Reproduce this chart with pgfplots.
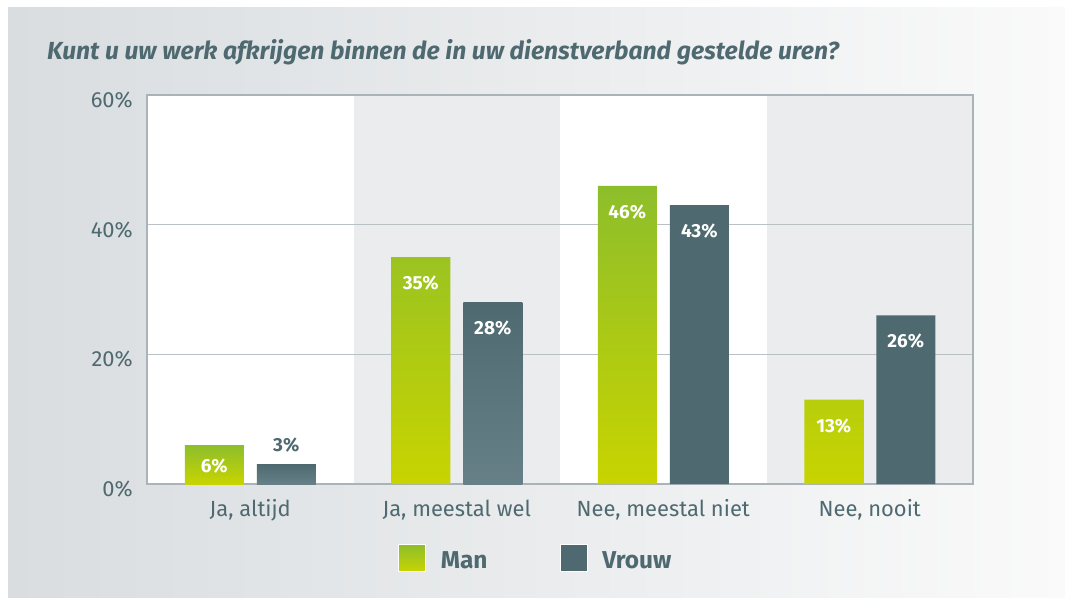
\documentclass[border=0pt]{standalone}
\usepackage{pgfplots}
\pgfplotsset{compat=1.18}
\usepackage{fontspec}
\setmainfont{Fira Sans}
\definecolor{dark}{RGB}{78,106,112}
\definecolor{vlight}{RGB}{103,128,136}
\definecolor{gtop}{RGB}{141,190,43}
\definecolor{gbot}{RGB}{200,212,0}
\definecolor{band}{RGB}{235,236,238}
\definecolor{framec}{RGB}{169,179,184}
\definecolor{gridc}{RGB}{185,193,197}
\definecolor{bgL}{RGB}{217,221,224}
\definecolor{bgR}{RGB}{250,250,250}
\newcommand\lbl{\fontsize{19}{22}\selectfont\bfseries}
\begin{document}
\begin{tikzpicture}[x=1bp,y=1bp]
\path (0,0) rectangle (1065,597);
\begin{axis}[
  set layers, clip=false,
  at={(147bp,113bp)}, anchor=south west,
  width=826bp, height=389bp, scale only axis,
  xmin=-0.5, xmax=3.5, ymin=0, ymax=60,
  ybar, bar width=59bp,
  xtick={0,1,2,3},
  xticklabels={{Ja, altijd},{Ja, meestal wel},{Nee, meestal niet},{Nee, nooit}},
  ytick={0,20,40,60},
  yticklabel={\pgfmathprintnumber{\tick}\%},
  /pgf/number format/assume math mode=true,
  major tick length=0,
  ymajorgrids, grid style={gridc, line width=1bp},
  axis line style={framec, line width=1.4bp},
  tick label style={text=dark, font=\fontsize{22}{26}\selectfont},
  yticklabel style={inner sep=0pt, xshift=-14bp, yshift=-5bp},
  xticklabel style={anchor=base, inner sep=0pt, yshift=-32bp},
  legend columns=2,
  legend style={at={(0.3039,-0.1903)}, anchor=west, draw=none, fill=none, inner sep=0pt,
    font=\fontsize{24.5}{28}\selectfont\bfseries, text=dark,
    nodes={inner sep=0pt},
    /tikz/every odd column/.append style={column sep=15bp},
    /tikz/every even column/.append style={column sep=72bp}},
]
\begin{pgfonlayer}{axis background}
\shade[left color=bgL, right color=bgR] (rel axis cs:-0.16828,-0.29049) rectangle (rel axis cs:1.11138,1.22365);
\node[anchor=base west, inner sep=0, text=dark, font=\fontsize{24.8}{28}\selectfont\bfseries\itshape] at (rel axis cs:-0.12107,1.08997) {Kunt u uw werk afkrijgen binnen de in uw dienstverband gestelde uren?};
\fill[white] (axis cs:-0.5,0) rectangle (axis cs:0.5,60);
\fill[band] (axis cs:0.5,0) rectangle (axis cs:1.5,60);
\fill[white] (axis cs:1.5,0) rectangle (axis cs:2.5,60);
\fill[band] (axis cs:2.5,0) rectangle (axis cs:3.5,60);
\end{pgfonlayer}
% Man
\addplot[bar shift=-36bp, draw=none, top color=gtop, bottom color=gbot,
  legend image code/.code={\shade[top color=gtop,bottom color=gbot,draw=white,line width=0.7bp] (0bp,-11bp) rectangle (27bp,16bp);},
  nodes near coords={\pgfmathprintnumber{\pgfplotspointmeta}\%},
  nodes near coords style={text=white, font=\lbl, anchor=center, yshift=-26bp}]
  coordinates {(1,35) (2,46) (3,13)};
\addlegendentry{Man}
% Vrouw
\addplot[bar shift=36bp, draw=none, fill=dark,
  legend image code/.code={\fill[dark,draw=white,line width=0.7bp] (0bp,-11bp) rectangle (27bp,16bp);},
  nodes near coords={\pgfmathprintnumber{\pgfplotspointmeta}\%},
  nodes near coords style={text=white, font=\lbl, anchor=center, yshift=-26bp}]
  coordinates {(2,43) (3,26)};
\addlegendentry{Vrouw}
\addplot[forget plot, bar shift=-36bp, draw=none, top color=gtop, bottom color=gbot,
  nodes near coords={\pgfmathprintnumber{\pgfplotspointmeta}\%},
  nodes near coords style={text=white, font=\lbl, anchor=center, yshift=-21bp}]
  coordinates {(0,6)};
\addplot[forget plot, bar shift=36bp, draw=none, top color=dark, bottom color=vlight,
  nodes near coords={\pgfmathprintnumber{\pgfplotspointmeta}\%},
  nodes near coords style={text=white, font=\lbl, anchor=center, yshift=-26bp}]
  coordinates {(1,28)};
\addplot[forget plot, bar shift=36bp, draw=none, top color=dark, bottom color=vlight,
  nodes near coords={\pgfmathprintnumber{\pgfplotspointmeta}\%},
  nodes near coords style={text=dark, font=\lbl, anchor=center, yshift=19bp}]
  coordinates {(0,3)};
\end{axis}
\end{tikzpicture}
\end{document}
